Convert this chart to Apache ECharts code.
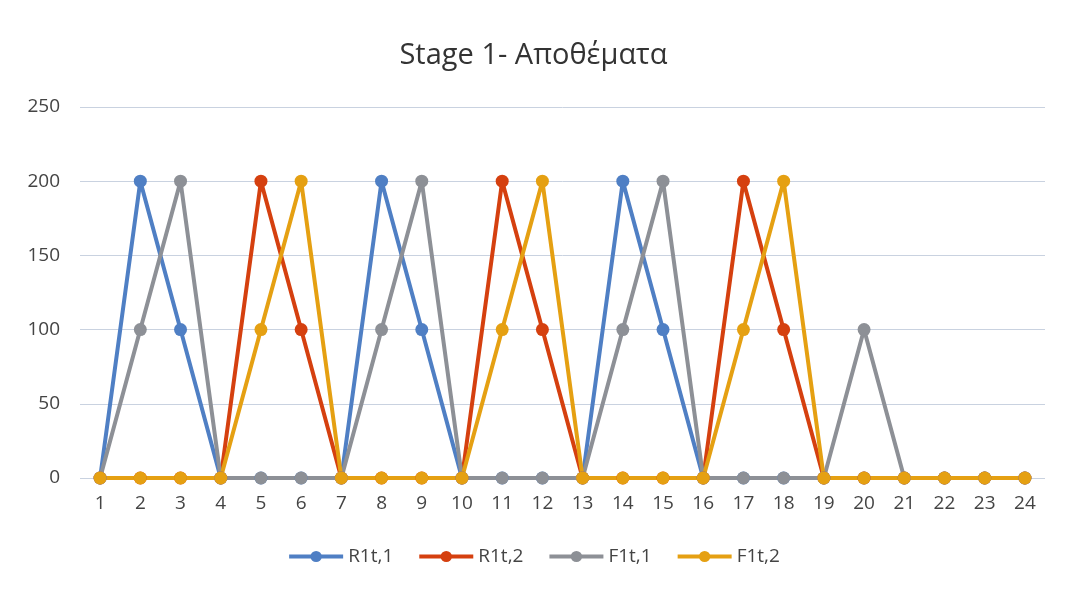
<!DOCTYPE html>
<html><head><meta charset="utf-8">
<script src="https://cdn.jsdelivr.net/npm/echarts@6/dist/echarts.min.js"></script>
<style>html,body{margin:0;padding:0;background:#fff}#c{width:1067px;height:589px}</style>
</head><body><div id="c"></div>
<script>
const categories = ['1','2','3','4','5','6','7','8','9','10','11','12','13','14','15','16','17','18','19','20','21','22','23','24'];
const R1t1 = [0,200,100,0,0,0,0,200,100,0,0,0,0,200,100,0,0,0,0,0,0,0,0,0];
const R1t2 = [0,0,0,0,200,100,0,0,0,0,200,100,0,0,0,0,200,100,0,0,0,0,0,0];
const F1t1 = [0,100,200,0,0,0,0,100,200,0,0,0,0,100,200,0,0,0,0,100,0,0,0,0];
const F1t2 = [0,0,0,0,100,200,0,0,0,0,100,200,0,0,0,0,100,200,0,0,0,0,0,0];
const seriesNames = ['R1t,1','R1t,2','F1t,1','F1t,2'];
const colors = ['#4f7fc4','#d5400f','#8d9096','#e5a012'];
const dataSets = [R1t1,R1t2,F1t1,F1t2];
const chart = echarts.init(document.getElementById('c'));
chart.setOption({
  animation:false,
  backgroundColor:'#fff',
  title:{text:'Stage 1- Αποθέματα',left:'center',top:36,textStyle:{fontFamily:'Open Sans',fontSize:29,fontWeight:'normal',color:'#333'}},
  legend:{bottom:18,left:'center',itemWidth:54,itemHeight:14,itemGap:24,
    lineStyle:{width:4},
    textStyle:{fontFamily:'Open Sans',fontSize:19,color:'#444'},data:seriesNames},
  grid:{left:80,right:22,top:107,bottom:111},
  xAxis:{type:'category',data:categories,boundaryGap:true,axisLine:{show:false},axisTick:{show:false},
    axisLabel:{fontFamily:'Open Sans',fontSize:19,color:'#444',margin:16}},
  yAxis:{type:'value',min:0,max:250,interval:50,axisLine:{show:false},axisTick:{show:false},
    axisLabel:{fontFamily:'Open Sans',fontSize:19,color:'#444',margin:20},
    splitLine:{lineStyle:{color:'#c9d2e0',width:1}}},
  series:dataSets.map((d,i)=>({name:seriesNames[i],type:'line',data:d,symbol:'circle',symbolSize:13,
    lineStyle:{width:4,color:colors[i]},itemStyle:{color:colors[i]}}))
});
</script></body></html>
